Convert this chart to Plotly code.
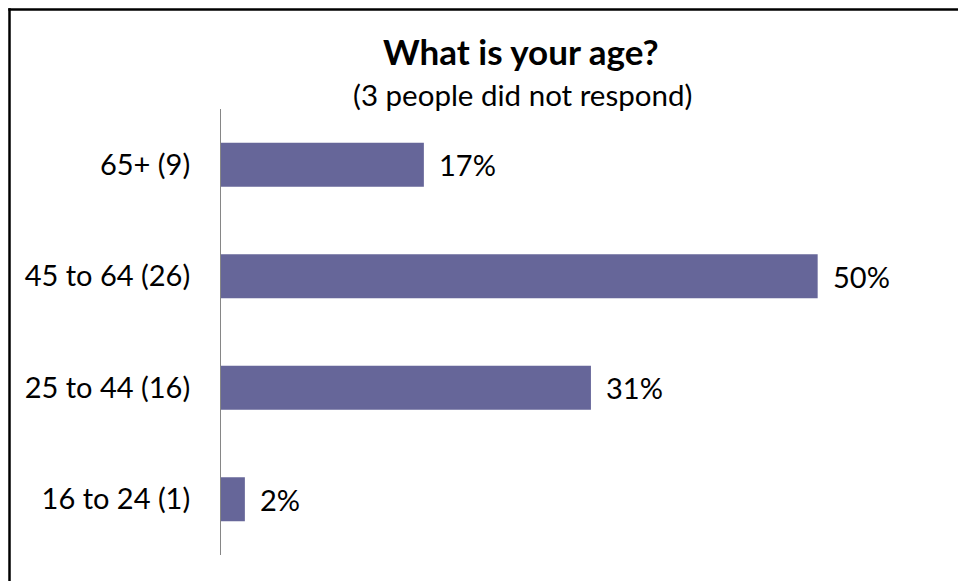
import plotly.graph_objects as go

categories = ["16 to 24 (1)", "25 to 44 (16)", "45 to 64 (26)", "65+ (9)"]
percent_values = [2, 31, 50, 17]
value_labels = ["2%", "31%", "50%", "17%"]
title_text = "What is your age?"
subtitle_text = "(3 people did not respond)"

W, H = 958, 581
L, R, T, B = 221, 21, 109, 26
pw, ph = W - L - R, H - T - B

def px_x(p):
    return (p - L) / pw

def px_y(p):
    return (H - B - p) / ph

FONT = "Lato"
BAR_COLOR = "#666699"

fig = go.Figure()
fig.add_trace(go.Bar(
    x=percent_values,
    y=categories,
    orientation="h",
    marker=dict(color=BAR_COLOR, line=dict(width=0)),
    hoverinfo="skip",
))

annotations = []
for cat, v, lab in zip(categories, percent_values, value_labels):
    annotations.append(dict(
        x=v, y=cat, xref="x", yref="y", text=lab, showarrow=False,
        xanchor="left", yanchor="middle", xshift=13,
        font=dict(family=FONT, size=29, color="#000000"),
    ))

annotations.append(dict(
    x=px_x(521), y=px_y(51), xref="paper", yref="paper", text="<b>" + title_text + "</b>",
    showarrow=False, xanchor="center", yanchor="middle",
    font=dict(family=FONT, size=35, color="#000000"),
))
annotations.append(dict(
    x=px_x(522), y=px_y(95), xref="paper", yref="paper", text=subtitle_text,
    showarrow=False, xanchor="center", yanchor="middle",
    font=dict(family=FONT, size=29.5, color="#000000"),
))

border = dict(color="#000000", width=2.5)
fig.update_layout(
    width=W, height=H,
    margin=dict(l=L, r=R, t=T, b=B, pad=0),
    paper_bgcolor="white", plot_bgcolor="white",
    showlegend=False,
    bargap=0.605,
    annotations=annotations,
    shapes=[
        dict(type="line", xref="paper", yref="paper",
             x0=px_x(8.3), x1=px_x(958), y0=px_y(9.5), y1=px_y(9.5), line=border),
        dict(type="line", xref="paper", yref="paper",
             x0=px_x(9.5), x1=px_x(9.5), y0=px_y(8.3), y1=px_y(581), line=border),
    ],
    xaxis=dict(range=[0, 60], visible=False, fixedrange=True),
    yaxis=dict(
        type="category", categoryorder="array", categoryarray=categories,
        range=[-0.5, 3.5],
        showline=True, linecolor="#868686", linewidth=1,
        showgrid=False, zeroline=False, ticks="",
        ticklabelstandoff=24,
        tickfont=dict(family=FONT, size=29, color="#000000"),
        fixedrange=True,
    ),
)

fig.write_html(
    "out.html",
    config={"displayModeBar": False},
    post_script="document.body.style.margin='0';document.body.style.overflow='hidden';",
)
